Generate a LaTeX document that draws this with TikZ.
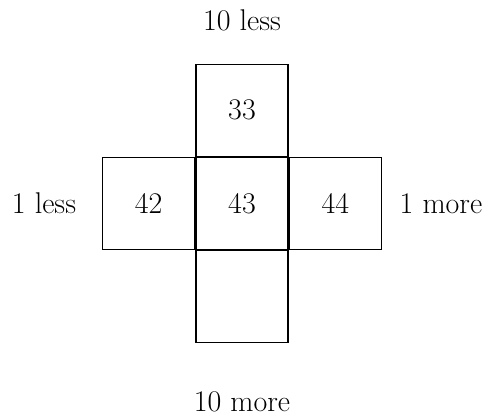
\documentclass[tikz,border=0pt]{standalone}
\usepackage{fontspec}
\usepackage{tikz}
\usetikzlibrary{positioning}

\begin{document}
\begin{tikzpicture}[x=1pt, y=1pt, every node/.style={font=\fontsize{30}{36}\selectfont},
  cell/.style={draw, line width=1.3pt, minimum size=92pt, inner sep=0pt}]
  \useasboundingbox (0,0) rectangle (488,417);

  % the cross of cells
  \node[cell] (c43) at (242,213.5) {43};
  \node[cell, above=0pt of c43] (c33) {33};
  \node[cell, below=0pt of c43] (c53) {};
  \node[cell, left=0pt of c43]  (c42) {42};
  \node[cell, right=0pt of c43] (c44) {44};

  % labels round it
  \node[anchor=base] (tenless) at (242,386) {10 less};
  \node[anchor=base] (tenmore) at (242,5)   {10 more};
  \node[anchor=base] (oneless) at (44,203)  {1 less};
  \node[anchor=base] (onemore) at (441,203) {1 more};
\end{tikzpicture}
\end{document}
